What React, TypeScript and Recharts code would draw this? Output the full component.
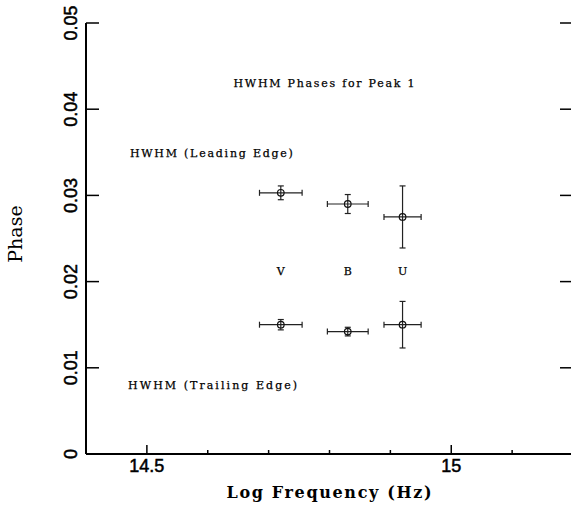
import React from 'react';
import { ComposedChart, Scatter, XAxis, YAxis, ErrorBar, ReferenceDot } from 'recharts';

// ---- data ----
const bands = ['V', 'B', 'U'];
const logFreq = [14.72, 14.83, 14.92];
const logFreqErr = [0.035, 0.0335, 0.0305];
const leadPhase = [0.0303, 0.0290, 0.0275];
const leadErr = [0.0008, 0.0011, 0.0036];
const trailPhase = [0.0150, 0.0142, 0.0150];
const trailErr = [0.0006, 0.0005, 0.0027];

const xDomain = [14.4, 15.2];
const yDomain = [0, 0.05];
const xTicks = [14.5, 14.6, 14.7, 14.8, 14.9, 15.0, 15.1];
const xMajorTicks = [14.5, 15.0];
const xTickLabels: Record<string, string> = { '14.5': '14.5', '15': '15' };
const yTicks = [0, 0.01, 0.02, 0.03, 0.04, 0.05];
const yTickLabels = ['0', '0.01', '0.02', '0.03', '0.04', '0.05'];

const title = 'HWHM Phases for Peak 1';
const titlePos = { x: 14.791, y: 0.0430 };
const leadLabel = 'HWHM (Leading Edge)';
const leadLabelPos = { x: 14.606, y: 0.0349 };
const trailLabel = 'HWHM (Trailing Edge)';
const trailLabelPos = { x: 14.608, y: 0.0080 };
const bandLabelY = 0.0212;

const leadData = bands.map((b, i) => ({ band: b, x: logFreq[i], y: leadPhase[i], ex: logFreqErr[i], ey: leadErr[i] }));
const trailData = bands.map((b, i) => ({ band: b, x: logFreq[i], y: trailPhase[i], ex: logFreqErr[i], ey: trailErr[i] }));

const tickFont = '"Liberation Sans", Arial, sans-serif';
const annFont = '"DejaVu Serif", "Liberation Serif", serif';

const isMajor = (v: number) => xMajorTicks.some((m) => Math.abs(m - v) < 1e-9);

const BottomTick = (props: any) => {
  const { x, y, payload } = props;
  const v = payload.value;
  const major = isMajor(v);
  const lbl = xTickLabels[String(v)];
  return (
    <g>
      <line x1={x} y1={y} x2={x} y2={y - (major ? 9 : 4)} stroke="#000" strokeWidth={1.5} />
      {major && lbl ? (
        <text x={x} y={y + 18} textAnchor="middle" fontFamily={tickFont} fontSize={18} fill="#000" stroke="#000" strokeWidth={0.5}>
          {lbl}
        </text>
      ) : null}
    </g>
  );
};

const TopTick = (props: any) => {
  const { x, y, payload } = props;
  const major = isMajor(payload.value);
  return <line x1={x} y1={y} x2={x} y2={y + (major ? 9 : 5)} stroke="#000" strokeWidth={1.5} />;
};

const LeftTick = (props: any) => {
  const { x, y, payload, index } = props;
  const lbl = yTickLabels[index] ?? String(payload.value);
  return (
    <g>
      <line x1={x} y1={y} x2={x + 13} y2={y} stroke="#000" strokeWidth={1.5} />
      <text
        x={x - 9}
        y={y}
        transform={`rotate(-90, ${x - 9}, ${y})`}
        textAnchor="middle"
        fontFamily={tickFont}
        fontSize={18}
        fill="#000"
        stroke="#000"
        strokeWidth={0.5}
      >
        {lbl}
      </text>
    </g>
  );
};

const RightTick = (props: any) => {
  const { x, y } = props;
  return <line x1={x} y1={y} x2={x - 13} y2={y} stroke="#000" strokeWidth={1.5} />;
};

const PointShape = (props: any) => {
  const { cx, cy } = props;
  return <circle cx={cx} cy={cy} r={3.3} fill="none" stroke="#111" strokeWidth={1.2} />;
};

const makeTextShape = (text: string, len?: number) => (props: any) => {
  const { cx, cy } = props;
  return (
    <text
      x={cx}
      y={cy}
      textAnchor="middle"
      dominantBaseline="central"
      fontFamily={annFont}
      fontSize={11}
      fill="#000"
      stroke="#000"
      strokeWidth={0.25}
      {...(len ? { textLength: len, lengthAdjust: 'spacing' } : {})}
    >
      {text}
    </text>
  );
};

export default function App() {
  return (
    <div style={{ position: 'fixed', left: 0, top: 0, width: 571, height: 506, overflow: 'hidden', background: '#fff' }}>
      <ComposedChart width={580} height={506} margin={{ top: 23, right: 0, bottom: 0, left: 0 }}>
        <XAxis
          xAxisId={0}
          type="number"
          dataKey="x"
          domain={xDomain}
          allowDataOverflow
          ticks={xTicks}
          interval={0}
          height={52}
          tickSize={0}
          tickMargin={0}
          tickLine={false}
          axisLine={{ stroke: '#000', strokeWidth: 2 }}
          tick={<BottomTick />}
        />
        <XAxis
          xAxisId="top"
          orientation="top"
          type="number"
          domain={xDomain}
          allowDataOverflow
          ticks={xTicks}
          interval={0}
          height={0}
          tickSize={0}
          tickMargin={0}
          tickLine={false}
          axisLine={{ stroke: '#000', strokeWidth: 2 }}
          tick={<TopTick />}
        />
        <YAxis
          yAxisId={0}
          type="number"
          dataKey="y"
          domain={yDomain}
          allowDataOverflow
          ticks={yTicks}
          interval={0}
          width={86}
          tickSize={0}
          tickMargin={0}
          tickLine={false}
          axisLine={{ stroke: '#000', strokeWidth: 2 }}
          tick={<LeftTick />}
        />
        <YAxis
          yAxisId="right"
          orientation="right"
          type="number"
          domain={yDomain}
          allowDataOverflow
          ticks={yTicks}
          interval={0}
          width={7}
          tickSize={0}
          tickMargin={0}
          tickLine={false}
          axisLine={{ stroke: '#000', strokeWidth: 2 }}
          tick={<RightTick />}
        />
        <text x={22} y={234} transform="rotate(-90, 22, 234)" textAnchor="middle" fontFamily='"DejaVu Serif", serif' fontSize={19} fill="#000">
          Phase
        </text>
        <text
          x={329}
          y={498}
          textAnchor="middle"
          fontFamily={annFont}
          fontWeight="bold"
          fontSize={16}
          fill="#000"
          textLength={205}
          lengthAdjust="spacing"
        >
          Log Frequency (Hz)
        </text>
        <Scatter name="Leading" data={leadData} shape={<PointShape />} isAnimationActive={false}>
          <ErrorBar dataKey="ex" direction="x" width={3} stroke="#222" strokeWidth={1.2} />
          <ErrorBar dataKey="ey" direction="y" width={3} stroke="#222" strokeWidth={1.2} />
        </Scatter>
        <Scatter name="Trailing" data={trailData} shape={<PointShape />} isAnimationActive={false}>
          <ErrorBar dataKey="ex" direction="x" width={3} stroke="#222" strokeWidth={1.2} />
          <ErrorBar dataKey="ey" direction="y" width={3} stroke="#222" strokeWidth={1.2} />
        </Scatter>
        <ReferenceDot x={titlePos.x} y={titlePos.y} r={0} shape={makeTextShape(title, 181)} />
        <ReferenceDot x={leadLabelPos.x} y={leadLabelPos.y} r={0} shape={makeTextShape(leadLabel, 163)} />
        <ReferenceDot x={trailLabelPos.x} y={trailLabelPos.y} r={0} shape={makeTextShape(trailLabel, 169)} />
        {bands.map((b, i) => (
          <ReferenceDot key={b} x={logFreq[i]} y={bandLabelY} r={0} shape={makeTextShape(b)} />
        ))}
      </ComposedChart>
    </div>
  );
}
